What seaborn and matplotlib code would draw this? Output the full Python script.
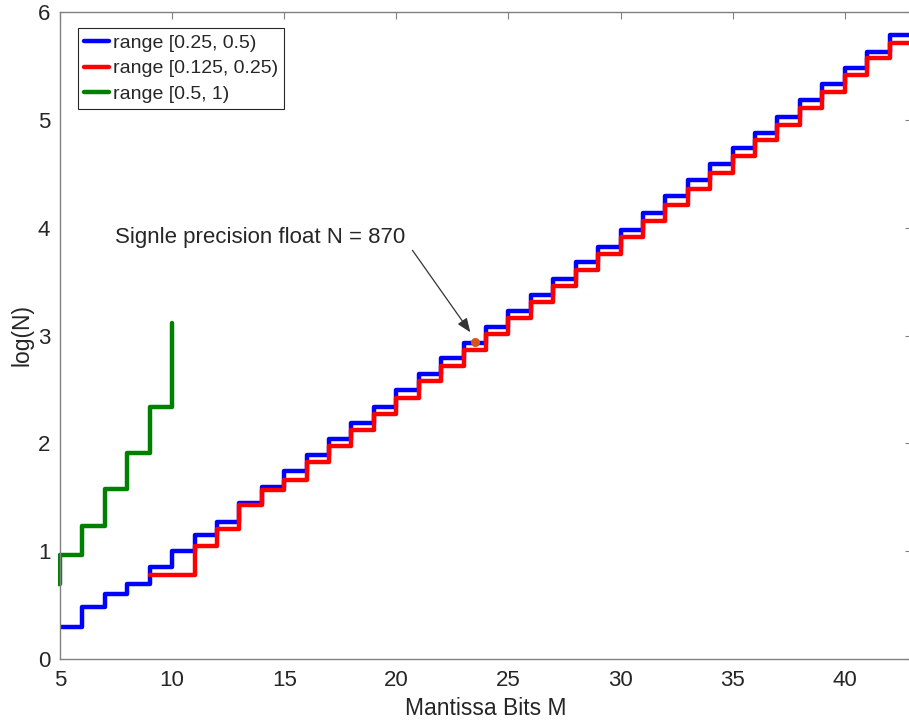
import numpy as np
import pandas as pd
import matplotlib
matplotlib.use("Agg")
import matplotlib.pyplot as plt
from matplotlib.lines import Line2D
from matplotlib.transforms import Bbox, TransformedBbox
import seaborn as sns

# log10 of the element count N per mantissa width M, one list per input range
bits_mid = list(range(5, 44))
log_n_mid = [0.30, 0.48, 0.60, 0.70, 0.85, 1.00, 1.15, 1.27, 1.445, 1.595,
             1.74, 1.89, 2.04, 2.19, 2.335, 2.49, 2.64, 2.79, 2.935, 3.08,
             3.23, 3.375, 3.52, 3.68, 3.825, 3.98, 4.14, 4.29, 4.44, 4.59,
             4.74, 4.88, 5.03, 5.185, 5.33, 5.48, 5.63, 5.79, 5.79]

bits_low = list(range(9, 44))
log_n_low = [0.78, 0.78, 1.05, 1.21, 1.43, 1.57, 1.66, 1.83, 1.975, 2.125,
             2.27, 2.42, 2.575, 2.72, 2.866, 3.015, 3.16, 3.31, 3.46, 3.61,
             3.76, 3.915, 4.06, 4.21, 4.36, 4.51, 4.66, 4.81, 4.95, 5.11,
             5.26, 5.415, 5.57, 5.715, 5.715]

bits_high = list(range(4, 11))
log_n_high = [0.70, 0.96, 1.23, 1.575, 1.91, 2.335, 3.12]

series_labels = ["range [0.25, 0.5)", "range [0.125, 0.25)", "range [0.5, 1)"]
series_colors = ["#0000ff", "#ff0000", "#008000"]

single_bits = 23.5
single_n = 870

x_ticks = [5, 10, 15, 20, 25, 30, 35, 40]
y_ticks = [0, 1, 2, 3, 4, 5, 6]

df = pd.concat([
    pd.DataFrame({"M": bits_mid, "logN": log_n_mid, "series": series_labels[0]}),
    pd.DataFrame({"M": bits_low, "logN": log_n_low, "series": series_labels[1]}),
    pd.DataFrame({"M": bits_high, "logN": log_n_high, "series": series_labels[2]}),
], ignore_index=True)

sns.set_theme(style="white")
plt.rcParams["font.family"] = ["Liberation Sans", "DejaVu Sans"]

fig = plt.figure(figsize=(9.09, 7.26), dpi=100)
ax_w_px = 852
ax = fig.add_axes([60 / 909, 67 / 726, ax_w_px / 909, 647 / 726])

LW = 3.2
sns.lineplot(data=df, x="M", y="logN", hue="series", hue_order=series_labels,
             palette=series_colors, drawstyle="steps-post", lw=LW,
             estimator=None, legend=False, ax=ax)

# the green stair rises right on the left spine: show its full width there
half_lw_px = LW * 100 / 72 / 2
clip = TransformedBbox(Bbox([[-half_lw_px / ax_w_px, 0], [1, 1]]), ax.transAxes)
for ln in ax.lines:
    if ln.get_xdata()[0] < 5:
        ln.set_clip_box(clip)

ax.plot([single_bits], [np.log10(single_n)], "o", color="#d95319", ms=5.5, zorder=5)

ax.annotate("", xy=(23.3, 3.03), xytext=(20.72, 3.79),
            arrowprops=dict(arrowstyle="-|>,head_length=0.7,head_width=0.28",
                            color="#333333", lw=0.9, shrinkA=0, shrinkB=0))
ax.text(7.46, 3.91, f"Signle precision float N = {single_n}", fontsize=16,
        ha="left", va="center", color="#262626")

ax.set_xlim(5, 43)
ax.set_ylim(0, 6)
ax.set_xticks(x_ticks)
ax.set_yticks(y_ticks)
ax.set_xlabel("Mantissa Bits M", fontsize=16.5, color="#262626", labelpad=4)
ax.set_ylabel("log(N)", fontsize=16.5, color="#262626", labelpad=3)

for sp in ax.spines.values():
    sp.set_visible(True)
    sp.set_color("#808080")
    sp.set_linewidth(1.0)
ax.tick_params(direction="in", top=True, right=True, length=5, width=0.8,
               color="#808080", labelsize=16, labelcolor="#262626")
ax.tick_params(axis="x", pad=8)
ax.tick_params(axis="y", pad=7)

handles = [Line2D([0], [0], color=c, lw=LW) for c in series_colors]
leg = ax.legend(handles, series_labels, loc="upper left",
                bbox_to_anchor=(0.021, 0.975), borderaxespad=0, fontsize=14,
                frameon=True, fancybox=False, framealpha=1, edgecolor="#262626",
                handlelength=1.3, handletextpad=0.2, labelspacing=0.42,
                borderpad=0.3)
leg.get_frame().set_linewidth(0.8)
for t in leg.get_texts():
    t.set_color("#262626")

fig.savefig("out.png", dpi=100)
